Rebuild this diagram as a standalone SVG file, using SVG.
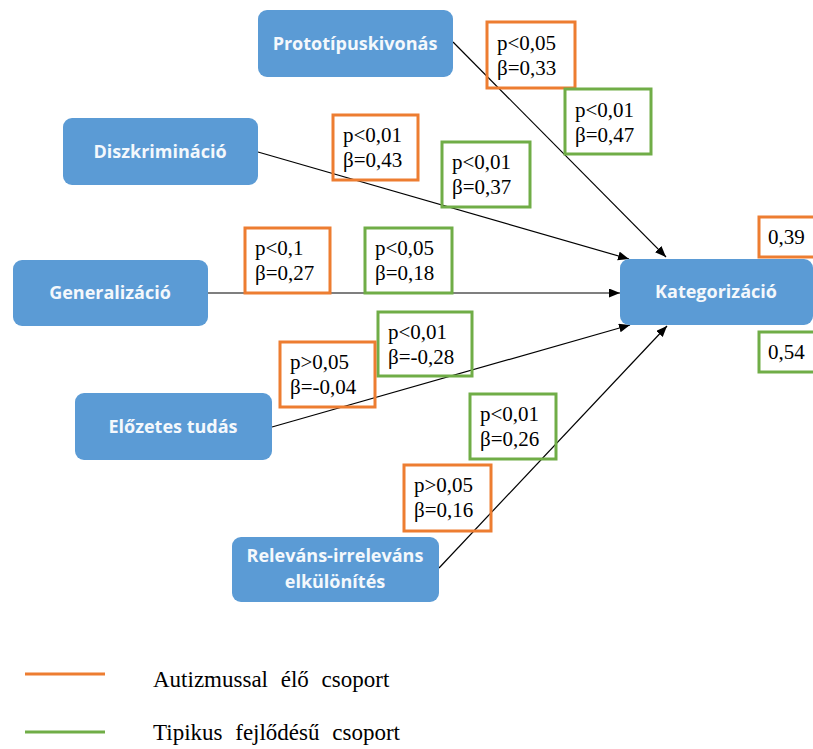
<svg xmlns="http://www.w3.org/2000/svg" width="813" height="749" viewBox="0 0 813 749">
<style>
.node rect{fill:#5b9bd5;}
.node text{font-family:"Open Sans","Liberation Sans",sans-serif;font-weight:bold;font-size:18px;fill:#f4f8fc;text-anchor:middle;}
.conn line{stroke:#000;stroke-width:1.2;}
.lbl rect{fill:none;stroke-width:3;}
.lbl text{font-family:"Liberation Serif",serif;font-size:21px;fill:#000;}
.o rect{stroke:#ed7d31;}
.g rect{stroke:#70ad47;}
.leg{font-family:"Liberation Serif",serif;font-size:23px;fill:#000;word-spacing:7px;}
</style>
<defs>
<marker id="arr" markerUnits="userSpaceOnUse" markerWidth="12" markerHeight="10" refX="11" refY="4.5" orient="auto">
<path d="M0,0 L11,4.5 L0,9 z" fill="#000"/>
</marker>
</defs>
<rect width="813" height="749" fill="#fff"/>

<g class="conn">
<line x1="453" y1="42" x2="666" y2="257" marker-end="url(#arr)"/>
<line x1="258" y1="152" x2="629" y2="259" marker-end="url(#arr)"/>
<line x1="208" y1="293" x2="620" y2="293" marker-end="url(#arr)"/>
<line x1="272" y1="427" x2="630" y2="325" marker-end="url(#arr)"/>
<line x1="439" y1="568" x2="667" y2="326" marker-end="url(#arr)"/>
</g>

<g id="prototipuskivonas" class="node"><rect x="258" y="10" width="195" height="67" rx="9"/><text x="355" y="50">Prototípuskivonás</text></g>
<g id="diszkriminacio" class="node"><rect x="63" y="118" width="195" height="67" rx="9"/><text x="160" y="158">Diszkrimináció</text></g>
<g id="generalizacio" class="node"><rect x="13" y="260" width="195" height="66" rx="9"/><text x="110" y="299">Generalizáció</text></g>
<g id="kategorizacio" class="node"><rect x="620" y="259" width="193" height="66" rx="9"/><text x="716" y="298">Kategorizáció</text></g>
<g id="elozetes-tudas" class="node"><rect x="75" y="393" width="197" height="67" rx="9"/><text x="173" y="433">Előzetes tudás</text></g>
<g id="relevans" class="node"><rect x="232" y="537" width="207" height="65" rx="9"/><text x="335" y="562">Releváns-irreleváns</text><text x="335" y="588">elkülönítés</text></g>

<g id="l-proto-o" class="lbl o"><rect x="487" y="22" width="88" height="66"/><text x="497" y="50">p&lt;0,05</text><text x="497" y="75">β=0,33</text></g>
<g id="l-proto-g" class="lbl g"><rect x="565" y="89" width="86" height="65"/><text x="575" y="117">p&lt;0,01</text><text x="575" y="142">β=0,47</text></g>
<g id="l-disz-o" class="lbl o"><rect x="333" y="115" width="85" height="65"/><text x="343" y="142">p&lt;0,01</text><text x="343" y="167">β=0,43</text></g>
<g id="l-disz-g" class="lbl g"><rect x="442" y="142" width="88" height="65"/><text x="452" y="169">p&lt;0,01</text><text x="452" y="194">β=0,37</text></g>
<g id="l-gen-o" class="lbl o"><rect x="245" y="228" width="85" height="65"/><text x="255" y="255">p&lt;0,1</text><text x="255" y="280">β=0,27</text></g>
<g id="l-gen-g" class="lbl g"><rect x="365" y="228" width="87" height="65"/><text x="375" y="255">p&lt;0,05</text><text x="375" y="280">β=0,18</text></g>
<g id="l-kat-o" class="lbl o"><rect x="759" y="217" width="58" height="40"/><text x="768" y="244">0,39</text></g>
<g id="l-kat-g" class="lbl g"><rect x="759" y="332" width="58" height="40"/><text x="768" y="359">0,54</text></g>
<g id="l-eloz-g" class="lbl g"><rect x="378" y="312" width="94" height="64"/><text x="388" y="339">p&lt;0,01</text><text x="388" y="364">β=-0,28</text></g>
<g id="l-eloz-o" class="lbl o"><rect x="280" y="342" width="95" height="65"/><text x="290" y="369">p&gt;0,05</text><text x="290" y="394">β=-0,04</text></g>
<g id="l-rel-g" class="lbl g"><rect x="470" y="394" width="86" height="65"/><text x="480" y="421">p&lt;0,01</text><text x="480" y="446">β=0,26</text></g>
<g id="l-rel-o" class="lbl o"><rect x="404" y="465" width="87" height="66"/><text x="414" y="492">p&gt;0,05</text><text x="414" y="517">β=0,16</text></g>

<g id="legend">
<line x1="25" y1="674" x2="105" y2="674" stroke="#ed7d31" stroke-width="3"/>
<text class="leg" x="153" y="687">Autizmussal élő csoport</text>
<line x1="25" y1="732" x2="105" y2="732" stroke="#70ad47" stroke-width="3"/>
<text class="leg" x="153" y="740">Tipikus fejlődésű csoport</text>
</g>
</svg>
